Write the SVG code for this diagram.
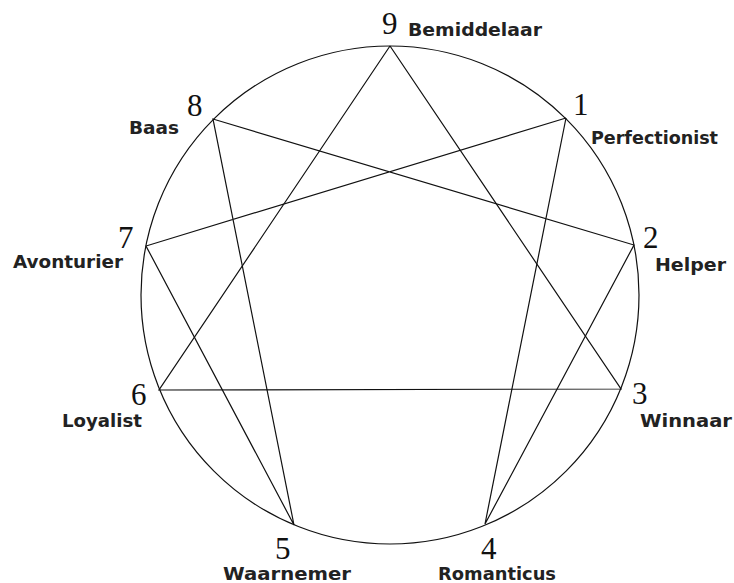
<svg xmlns="http://www.w3.org/2000/svg" width="734" height="583" viewBox="0 0 734 583">
<style>
.ln{stroke:#111;stroke-width:1.2;fill:none}
.num{font-family:"Liberation Serif","Times New Roman",serif;font-size:31px;fill:#111}
.lbl{font-family:"DejaVu Sans","Liberation Sans",sans-serif;font-weight:bold;font-size:17.5px;fill:#222}
</style>
<rect width="734" height="583" fill="#fff"/>
<g id="circle"><circle class="ln" cx="390" cy="295" r="249"/></g>
<g id="connectors">
<polyline class="ln" points="390,46 621,389 159,390 390,46"/>
<polyline class="ln" points="566,118 485,524 634,245 213,119 294,525 146,246 566,118"/>
</g>
<g id="n9"><text class="num" x="382" y="34">9</text><text class="lbl" x="408" y="36" textLength="134" lengthAdjust="spacingAndGlyphs">Bemiddelaar</text></g>
<g id="n1"><text class="num" x="573" y="115">1</text><text class="lbl" x="591" y="144" textLength="127" lengthAdjust="spacingAndGlyphs">Perfectionist</text></g>
<g id="n2"><text class="num" x="643" y="248">2</text><text class="lbl" x="655" y="271" textLength="71" lengthAdjust="spacingAndGlyphs">Helper</text></g>
<g id="n3"><text class="num" x="632" y="404">3</text><text class="lbl" x="640" y="427" textLength="92" lengthAdjust="spacingAndGlyphs">Winnaar</text></g>
<g id="n4"><text class="num" x="481" y="559">4</text><text class="lbl" x="438" y="580" textLength="118" lengthAdjust="spacingAndGlyphs">Romanticus</text></g>
<g id="n5"><text class="num" x="275" y="559">5</text><text class="lbl" x="223" y="580" textLength="128" lengthAdjust="spacingAndGlyphs">Waarnemer</text></g>
<g id="n6"><text class="num" x="131" y="405">6</text><text class="lbl" x="62" y="427" textLength="80" lengthAdjust="spacingAndGlyphs">Loyalist</text></g>
<g id="n7"><text class="num" x="118" y="248">7</text><text class="lbl" x="13" y="268" textLength="110" lengthAdjust="spacingAndGlyphs">Avonturier</text></g>
<g id="n8"><text class="num" x="187" y="116">8</text><text class="lbl" x="129" y="134" textLength="50" lengthAdjust="spacingAndGlyphs">Baas</text></g>
</svg>
